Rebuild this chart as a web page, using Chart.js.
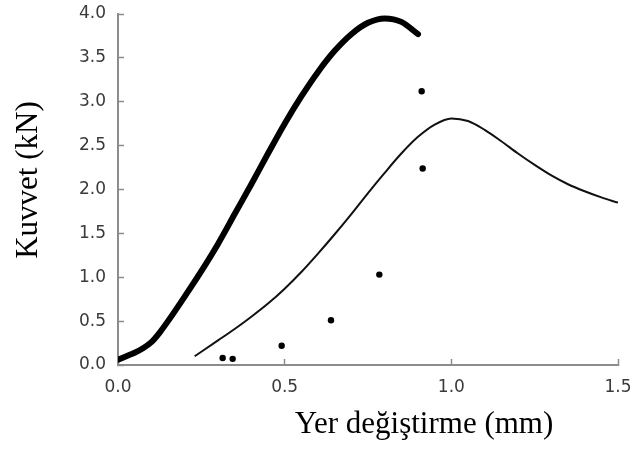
<!DOCTYPE html>
<html>
<head>
<meta charset="utf-8">
<script src="https://cdn.jsdelivr.net/npm/chart.js@4/dist/chart.umd.min.js"></script>
<style>
  html, body { margin: 0; padding: 0; background: #fff; }
  #wrap { width: 636px; height: 458px; position: relative; }
</style>
</head>
<body>
<div id="wrap"><canvas id="kuvvet_chart"></canvas></div>
<script>
// kalin egri (ust)
var thickX = [0.00, 0.025, 0.05, 0.075, 0.10, 0.125, 0.15, 0.20, 0.25, 0.30, 0.35, 0.40, 0.45, 0.50, 0.55, 0.60, 0.65, 0.70, 0.75, 0.80, 0.85, 0.90];
var thickY = [0.06, 0.10, 0.14, 0.19, 0.26, 0.37, 0.50, 0.78, 1.07, 1.38, 1.72, 2.06, 2.41, 2.75, 3.06, 3.34, 3.58, 3.77, 3.90, 3.95, 3.91, 3.77];

// ince egri
var thinX = [0.23, 0.30, 0.35, 0.40, 0.45, 0.50, 0.55, 0.60, 0.65, 0.70, 0.75, 0.80, 0.85, 0.90, 0.95, 1.00, 1.05, 1.10, 1.15, 1.20, 1.25, 1.30, 1.35, 1.40, 1.45, 1.50];
var thinY = [0.10, 0.28, 0.41, 0.55, 0.70, 0.87, 1.06, 1.27, 1.49, 1.72, 1.96, 2.19, 2.41, 2.60, 2.74, 2.81, 2.78, 2.68, 2.55, 2.41, 2.28, 2.16, 2.06, 1.98, 1.91, 1.85];

// noktalar
var dotX = [0.314, 0.344, 0.491, 0.639, 0.784, 0.911, 0.914];
var dotY = [0.08, 0.07, 0.22, 0.51, 1.03, 3.12, 2.24];

var xTickLabels = ['0.0', '0.5', '1.0', '1.5'];
var yTickLabels = ['0.0', '0.5', '1.0', '1.5', '2.0', '2.5', '3.0', '3.5', '4.0'];

var xTitle = 'Yer değiştirme (mm)';
var yTitle = 'Kuvvet (kN)';

function toPoints(xs, ys){
    return xs.map(function(x, i){ return {x: x, y: ys[i]}; });
}

function fixedTicks(labels){
    return function(scale){
        scale.ticks = labels.map(function(l){ return {value: parseFloat(l)}; });
    };
}

var axisGrey = '#8c8c8c';
var tickFont = {family: '"DejaVu Sans", sans-serif', size: 17};

// eksen basliklari
var axisTitles = {
    id: 'axisTitles',
    afterDraw: function(chart){
        var ctx = chart.ctx;
        var area = chart.chartArea;
        ctx.save();
        ctx.fillStyle = '#000';
        ctx.font = '31px "Liberation Serif", "Times New Roman", serif';
        ctx.textAlign = 'center';
        ctx.textBaseline = 'alphabetic';
        ctx.fillText(xTitle, area.left + 306, area.bottom + 68);
        ctx.translate(29, area.top + 166);
        ctx.rotate(-Math.PI / 2);
        ctx.textBaseline = 'middle';
        ctx.fillText(yTitle, 0, 0);
        ctx.restore();
    }
};

function init(){
    var ctx = document.getElementById('kuvvet_chart').getContext('2d');
    new Chart(ctx, {
        type: 'scatter',
        data: {
            datasets: [{
                data: toPoints(thickX, thickY),
                showLine: true,
                borderColor: '#000',
                borderWidth: 6,
                borderCapStyle: 'round',
                borderJoinStyle: 'round',
                cubicInterpolationMode: 'monotone',
                pointRadius: 0
            }, {
                data: toPoints(thinX, thinY),
                showLine: true,
                borderColor: '#111',
                borderWidth: 2,
                cubicInterpolationMode: 'monotone',
                pointRadius: 0
            }, {
                data: toPoints(dotX, dotY),
                showLine: false,
                pointRadius: 3.2,
                pointBackgroundColor: '#000',
                pointBorderWidth: 0
            }]
        },
        options: {
            responsive: true,
            maintainAspectRatio: false,
            animation: false,
            layout: {padding: {top: 14, right: 18, left: 0, bottom: 0}},
            plugins: {legend: {display: false}, tooltip: {enabled: false}},
            scales: {
                x: {
                    type: 'linear',
                    min: 0, max: 1.5,
                    afterBuildTicks: fixedTicks(xTickLabels),
                    afterFit: function(s){
                        s.height = 93;
                        s.paddingLeft = 0;
                        s.paddingRight = 0;
                    },
                    border: {display: true, color: axisGrey, width: 2},
                    grid: {drawOnChartArea: false, drawTicks: true, tickLength: -6, tickColor: axisGrey, tickWidth: 1.5},
                    ticks: {
                        font: tickFont, color: '#3a3a3a', padding: 18, maxRotation: 0,
                        callback: function(v){ return v.toFixed(1); }
                    }
                },
                y: {
                    type: 'linear',
                    min: 0, max: 4,
                    afterBuildTicks: fixedTicks(yTickLabels),
                    afterFit: function(s){
                        s.width = 118;
                        s.paddingTop = 0;
                        s.paddingBottom = 0;
                    },
                    border: {display: true, color: axisGrey, width: 2},
                    grid: {drawOnChartArea: false, drawTicks: true, tickLength: -6, tickColor: axisGrey, tickWidth: 1.5},
                    ticks: {
                        font: tickFont, color: '#3a3a3a', padding: 18,
                        callback: function(v){ return v.toFixed(1); }
                    }
                }
            }
        },
        plugins: [axisTitles]
    });
}

window.onload = init;
</script>
</body>
</html>
